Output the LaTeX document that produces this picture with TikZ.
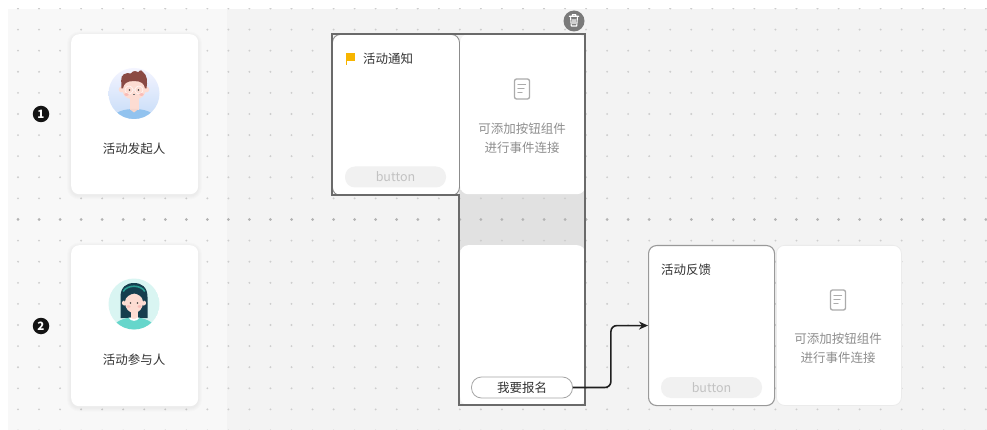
\documentclass[tikz,border=0pt]{standalone}
\usepackage{fontspec}
\setmainfont{Noto Sans CJK SC}
\usetikzlibrary{arrows.meta,calc}

\definecolor{bgL}{HTML}{F8F8F8}
\definecolor{bgR}{HTML}{F3F3F3}
\definecolor{dotc}{HTML}{CDCDCD}
\definecolor{dotdark}{HTML}{B3B3B3}
\definecolor{txt}{HTML}{333333}
\definecolor{hint}{HTML}{8E8E8E}
\definecolor{framec}{HTML}{6A6A6A}
\definecolor{colgray}{HTML}{E1E1E1}
\definecolor{pillgray}{HTML}{F1F1F1}
\definecolor{pilltxt}{HTML}{C2C2C2}
\definecolor{iconc}{HTML}{ABABAB}
\definecolor{flagc}{HTML}{F7B500}
\definecolor{skin}{HTML}{FDDCD2}
\definecolor{cheek}{HTML}{F8B4B0}
\definecolor{hairm}{HTML}{8A4A44}
\definecolor{shirtm}{HTML}{92C3EF}
\definecolor{hairw}{HTML}{163E4E}
\definecolor{shirtw}{HTML}{66D6CB}
\definecolor{bandw}{HTML}{2A9C92}
\definecolor{mintbg}{HTML}{D9F5F2}

\tikzset{
  lbl/.style={text=txt, inner sep=0pt, font=\fontsize{12.5}{15}\selectfont},
  hinttxt/.style={text=hint, inner sep=0pt, font=\fontsize{12.5}{15}\selectfont},
  card/.style={fill=white, rounded corners=8pt, inner sep=0pt, anchor=north west},
  pill/.style={rounded corners=10pt, inner sep=0pt, minimum width=101pt, minimum height=21pt,
               font=\fontsize{12.5}{15}\selectfont},
  greypill/.style={pill, fill=pillgray, text=pilltxt},
  badge/.style={circle, fill=black!92, text=white, inner sep=0pt, minimum size=16.5pt,
                font=\bfseries\fontsize{11.5}{12}\selectfont},
  conn/.style={draw=black!88, line width=1.6pt, rounded corners=6pt,
               -{Stealth[length=9pt,width=8pt]}},
  docicon/.pic={
    \draw[iconc, line width=1.3pt, rounded corners=2pt] (-7.5,-10) rectangle (7.5,10);
    \draw[iconc, line width=1.3pt, line cap=round] (-4,-4.5) -- (3.5,-4.5);
    \draw[iconc, line width=1.3pt, line cap=round] (-4,-0.5) -- (2,-0.5);
    \draw[iconc, line width=1.3pt, line cap=round] (-4,3.5) -- (0,3.5);
  },
  mansketch/.pic={
    \begin{scope}
      \clip (0,0) circle (25.5pt);
      \shade[top color=blue!4, bottom color={rgb,255:red,198;green,220;blue,248}] (-26,-26) rectangle (26,26);
      \fill[shirtm] (-24,27) .. controls (-20,18) and (-10,15.5) .. (0,15.5)
                    .. controls (10,15.5) and (20,18) .. (24,27) -- cycle;
      \fill[skin] (-4.5,0) rectangle (4.5,16.5);
      \fill[skin!85!black!20!skin] (-4.5,15.5) -- (0,19) -- (4.5,15.5) -- cycle;
      \fill[skin] (-12.3,-4) circle (3pt);
      \fill[skin] (12.3,-4) circle (3pt);
      \fill[skin, rounded corners=9pt] (-11.5,-17) rectangle (11.5,5.5);
      \fill[hairm] (-12.5,-5) -- (-12.8,-13) .. controls (-13.5,-19) and (-8,-21.5) .. (-3,-20)
                   .. controls (-1,-24) and (4,-22) .. (4,-21)
                   .. controls (6,-24.5) and (9,-23) .. (9,-21.5)
                   .. controls (13.5,-18) and (13.5,-12) .. (12.5,-5)
                   -- (11,-5) .. controls (10.5,-10) and (7,-12.5) .. (0,-12.5)
                   .. controls (-7,-12.5) and (-10.5,-10) .. (-11,-5) -- cycle;
      \draw[white, opacity=0.8, line width=0.6pt] (-5,-3.5) circle (4pt) (5,-3.5) circle (4pt) (-1,-3.5) -- (1,-3.5);
      \fill[black!75] (-4.5,-3.5) circle (0.9pt) (4.5,-3.5) circle (0.9pt);
      \fill[cheek, opacity=0.8] (-7.5,1) ellipse (2.2pt and 1.4pt) (7.5,1) ellipse (2.2pt and 1.4pt);
      \draw[black!55, line width=0.5pt] (-0.6,0.5) -- (0.6,0.5);
    \end{scope}
  },
  womansketch/.pic={
    \begin{scope}
      \clip (0,0) circle (25.5pt);
      \fill[mintbg] (0,0) circle (26pt);
      \fill[hairw] (-13.5,14) -- (-13.5,-7) .. controls (-13.5,-17) and (-7.5,-21) .. (0,-21)
                   .. controls (7.5,-21) and (13.5,-17) .. (13.5,-7) -- (13.5,14) -- cycle;
      \fill[shirtw] (-24,27) .. controls (-20,17) and (-10,13.5) .. (0,13.5)
                    .. controls (10,13.5) and (20,17) .. (24,27) -- cycle;
      \fill[skin] (-3.5,4) rectangle (3.5,15);
      \fill[white] (-5.5,13.5) .. controls (-3,18) and (3,18) .. (5.5,13.5) -- (3.5,13.5)
                   .. controls (2,15.5) and (-2,15.5) .. (-3.5,13.5) -- cycle;
      \fill[skin] (-9.5,-1) circle (2.6pt) (9.5,-1) circle (2.6pt);
      \fill[skin] (0,-1.5) ellipse (9pt and 10.5pt);
      \fill[hairw] (-10,-2) .. controls (-10,-14) and (-5,-17.5) .. (0,-17.5)
                   .. controls (5,-17.5) and (10,-14) .. (10,-2)
                   .. controls (8.5,-7.5) and (4,-10) .. (0.5,-10.5)
                   .. controls (-4,-10) and (-8.5,-7.5) .. (-10,-2) -- cycle;
      \draw[bandw, line width=1.6pt] (-10.8,-12.5) .. controls (-7,-19.5) and (7,-19.5) .. (10.8,-12.5);
      \fill[black!75] (-3.5,-1) circle (0.85pt) (3.5,-1) circle (0.85pt);
      \fill[cheek, opacity=0.8] (-5.5,2.5) ellipse (2pt and 1.3pt) (5.5,2.5) ellipse (2pt and 1.3pt);
    \end{scope}
  }
}

\begin{document}
\begin{tikzpicture}[x=1pt,y=-1pt]
  \useasboundingbox (0,0) rectangle (987,430);

  % canvas: lighter lane header column and the flow area
  \fill[bgR] (8,9) rectangle (987,430);
  \fill[bgL] (8,9) rectangle (227,430);
  % grey strip of the grouped column between its two steps
  \fill[colgray] (459,190) rectangle (585,250);

  % dot grid, with a darker row marking the lane divider
  \begin{scope}
    \clip (8,9) rectangle (987,430);
    \foreach \i in {0,...,46} {
      \foreach \j in {0,...,20} {
        \fill[dotc] ({18+21.04*\i},{8.5+21.1*\j}) circle (1.05pt);
      }
      \fill[dotdark] ({18+21.04*\i},219.5) circle (1.5pt);
    }
  \end{scope}

  % lane numbers
  \node[badge] (b1) at (41,114) {1};
  \node[badge] (b2) at (41,326) {2};

  % soft shadows of the role cards
  \foreach \yy/\hh in {34/160, 245/161} {
    \foreach \k in {1,...,4} {
      \fill[black, opacity=0.012, rounded corners={8pt+\k pt}]
        ({71-\k},{\yy-\k+1.5}) rectangle ({198+\k},{\yy+\hh+\k+1.5});
    }
  }

  % role cards
  \node[card, minimum width=127pt, minimum height=160pt] (r1) at (71,34) {};
  \pic at (134,93.5) {mansketch};
  \node[lbl] (r1t) at (134,149) {活动发起人};

  \node[card, minimum width=127pt, minimum height=161pt] (r2) at (71,245) {};
  \pic at (134,304) {womansketch};
  \node[lbl] (r2t) at (134,360) {活动参与人};

  % grouped steps
  \node[card, minimum width=125pt, minimum height=160pt] (n2) at (460,34) {};
  \node[card, minimum width=125pt, minimum height=160pt] (n3) at (460,245) {};
  \node[card, draw=black!45, line width=0.9pt, minimum width=127pt, minimum height=161pt] (n1) at (332,34) {};

  \fill[flagc] (345.5,53) rectangle (347,65.5);
  \fill[flagc] (347,53.5) -- (355,53.5) -- (355,61) -- (347,61) -- cycle;
  \node[lbl, anchor=west] (n1t) at (363,59) {活动通知};
  \node[greypill] (btn1) at (395.5,177) {button};

  \pic at (522,89) {docicon};
  \node[hinttxt] (n2a) at (522,129) {可添加按钮组件};
  \node[hinttxt] (n2b) at (522,148) {进行事件连接};

  \node[pill, fill=white, draw=black!35, line width=0.8pt, text=txt] (bm) at (522,387.5) {我要报名};

  % outline of the selected group
  \draw[framec, line width=1.5pt] (332,34) -- (585,34) -- (585,405) -- (459,405)
        -- (459,195) -- (332,195) -- cycle;

  % delete handle of the group
  \node[circle, fill=black!52, minimum size=21pt, inner sep=0pt] (del) at (574,21) {};
  \draw[white, line width=1.1pt, line cap=round, line join=round]
    (569.3,16.3) -- (578.7,16.3)
    (572.3,16.3) -- (572.3,14.6) -- (575.7,14.6) -- (575.7,16.3)
    (570.6,17.6) -- (571.3,26) -- (576.7,26) -- (577.4,17.6)
    (573,19.5) -- (573,23.8) (575,19.5) -- (575,23.8);

  % feedback step
  \node[card, draw=black!40, line width=1.1pt, minimum width=126pt, minimum height=160pt] (fb) at (648,245) {};
  \node[lbl, anchor=west] (fbt) at (661,270) {活动反馈};
  \node[greypill] (btn2) at (711.5,387.5) {button};

  \node[card, draw=black!8, line width=0.8pt, minimum width=125pt, minimum height=160pt] (fh) at (776,245) {};
  \pic at (838,300) {docicon};
  \node[hinttxt] (fha) at (838,339) {可添加按钮组件};
  \node[hinttxt] (fhb) at (838,358) {进行事件连接};

  % event link from the sign-up button to the feedback step
  \draw[conn] (bm.east) -- ++(38,0) |- (fb.west);
\end{tikzpicture}
\end{document}
